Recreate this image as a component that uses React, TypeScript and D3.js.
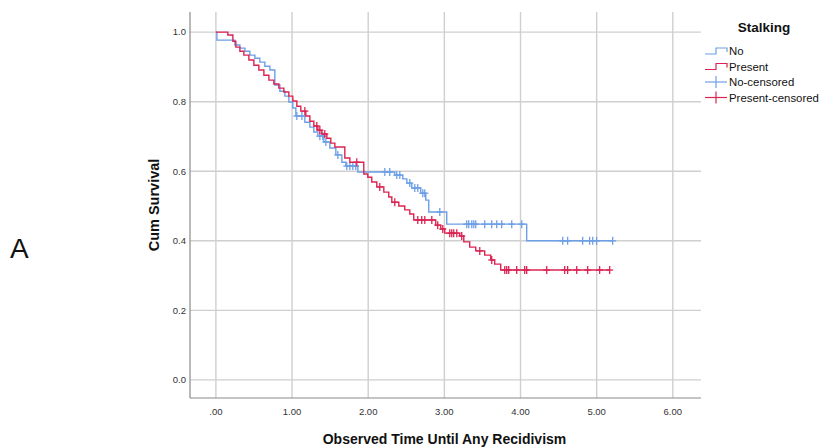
import React from "react";
import * as d3 from "d3";

// ---- Data ----
const xTicks = [0, 1, 2, 3, 4, 5, 6];
const xTickLabels = [".00", "1.00", "2.00", "3.00", "4.00", "5.00", "6.00"];
const yTicks = [0, 0.2, 0.4, 0.6, 0.8, 1.0];
const yTickLabels = ["0.0", "0.2", "0.4", "0.6", "0.8", "1.0"];

const groups = ["No", "Present"];
const legendLabels = ["No", "Present", "No-censored", "Present-censored"];

// "No" group: event times and survival after each event
const noTimes = [0.013, 0.249, 0.315, 0.381, 0.446, 0.512, 0.577, 0.643, 0.709, 0.774, 0.84, 0.906, 0.958, 1.01, 1.05, 1.168, 1.234, 1.286, 1.339, 1.417, 1.496, 1.575, 1.654, 1.706, 1.864, 2.349, 2.454, 2.507, 2.572, 2.69, 2.756, 2.795, 3.031, 4.081];
const noSurv = [0.977, 0.963, 0.954, 0.945, 0.934, 0.925, 0.914, 0.902, 0.891, 0.848, 0.83, 0.816, 0.799, 0.782, 0.759, 0.741, 0.727, 0.713, 0.701, 0.684, 0.667, 0.647, 0.626, 0.615, 0.598, 0.589, 0.578, 0.566, 0.552, 0.537, 0.517, 0.483, 0.448, 0.4];
const noCensored = [1.063, 1.129, 1.365, 1.404, 1.444, 1.601, 1.719, 1.759, 1.798, 1.837, 2.218, 2.283, 2.375, 2.415, 2.546, 2.612, 2.651, 2.717, 2.743, 2.94, 3.294, 3.32, 3.36, 3.386, 3.412, 3.53, 3.622, 3.688, 3.753, 3.885, 4.016, 4.554, 4.619, 4.816, 4.908, 4.948, 4.999, 5.21];

// "Present" group
const presentTimes = [0.157, 0.223, 0.262, 0.315, 0.367, 0.433, 0.499, 0.564, 0.63, 0.696, 0.761, 0.827, 0.892, 0.958, 1.01, 1.063, 1.115, 1.181, 1.234, 1.286, 1.339, 1.391, 1.457, 1.509, 1.562, 1.693, 1.759, 1.942, 1.995, 2.047, 2.113, 2.205, 2.27, 2.31, 2.402, 2.48, 2.546, 2.598, 2.887, 2.953, 3.005, 3.202, 3.255, 3.333, 3.412, 3.53, 3.609, 3.661, 3.74];
const presentSurv = [0.992, 0.974, 0.957, 0.945, 0.934, 0.92, 0.905, 0.891, 0.876, 0.862, 0.851, 0.839, 0.828, 0.816, 0.802, 0.787, 0.773, 0.759, 0.744, 0.73, 0.718, 0.707, 0.695, 0.681, 0.67, 0.638, 0.626, 0.592, 0.583, 0.569, 0.555, 0.54, 0.526, 0.511, 0.5, 0.489, 0.477, 0.46, 0.445, 0.434, 0.422, 0.414, 0.397, 0.382, 0.371, 0.359, 0.345, 0.333, 0.316];
const presentCensored = [1.168, 1.325, 1.365, 1.43, 1.85, 2.152, 2.349, 2.651, 2.703, 2.743, 2.835, 2.913, 2.979, 3.071, 3.097, 3.123, 3.163, 3.228, 3.465, 3.622, 3.793, 3.819, 3.845, 3.95, 4.055, 4.081, 4.344, 4.58, 4.619, 4.738, 4.882, 5.039, 5.171];

const colors = ["#6d9fe6", "#dc2352"];

const W = 824;
const H = 447;
const plot = { left: 190, right: 701, top: 12, bottom: 398 };

function survAt(times: number[], surv: number[], t: number) {
  let s = 1;
  for (let i = 0; i < times.length; i++) {
    if (times[i] <= t) s = surv[i];
  }
  return s;
}

export default function App() {
  const x = d3.scaleLinear().domain([-0.34, 6.37]).range([plot.left, plot.right]);
  const y = d3.scaleLinear().domain([-0.052, 1.058]).range([plot.bottom, plot.top]);
  const font = "'Liberation Sans', Arial, Helvetica, sans-serif";

  const series = [
    { times: noTimes, surv: noSurv, cens: noCensored },
    { times: presentTimes, surv: presentSurv, cens: presentCensored },
  ];

  const line = d3
    .line<[number, number]>()
    .x((d) => x(d[0]))
    .y((d) => y(d[1]))
    .curve(d3.curveStepAfter);

  const legendRows = [51, 66.5, 82, 97.5];

  return (
    <svg width={W} height={H} style={{ position: "absolute", left: 0, top: 0, background: "#fff" }}>
      <rect x={0} y={0} width={W} height={H} fill="#fff" />
      {/* grid */}
      {xTicks.map((t) => (
        <line key={"gx" + t} x1={x(t)} x2={x(t)} y1={plot.top} y2={plot.bottom} stroke="#cfcfcf" strokeWidth={1.4} />
      ))}
      {yTicks.map((t) => (
        <line key={"gy" + t} x1={plot.left} x2={plot.right} y1={y(t)} y2={y(t)} stroke="#cfcfcf" strokeWidth={1.4} />
      ))}
      {/* axes */}
      <line x1={plot.left} x2={plot.left} y1={plot.top} y2={plot.bottom} stroke="#8a8a8a" strokeWidth={1.2} />
      <line x1={plot.left} x2={plot.right} y1={plot.bottom} y2={plot.bottom} stroke="#8a8a8a" strokeWidth={1.2} />
      {/* tick labels */}
      {xTicks.map((t, i) => (
        <text key={"xl" + t} x={x(t)} y={415} fontSize={9.5} fontFamily={font} fill="#333" textAnchor="middle">
          {xTickLabels[i]}
        </text>
      ))}
      {yTicks.map((t, i) => (
        <text key={"yl" + t} x={186} y={y(t) + 3.3} fontSize={9.5} fontFamily={font} fill="#333" textAnchor="end">
          {yTickLabels[i]}
        </text>
      ))}
      {/* axis titles */}
      <text x={(plot.left + plot.right) / 2 - 1} y={444} fontSize={14} fontWeight="bold" fontFamily={font} fill="#111" textAnchor="middle">
        Observed Time Until Any Recidivism
      </text>
      <text
        transform={`translate(159,${(plot.top + plot.bottom) / 2}) rotate(-90)`}
        fontSize={14.5}
        fontWeight="bold"
        fontFamily={font}
        fill="#111"
        textAnchor="middle"
      >
        Cum Survival
      </text>
      <text x={10} y={258} fontSize={28} fontFamily={font} fill="#111">
        A
      </text>
      {/* curves */}
      {series.map((s, gi) => {
        const lastT = Math.max(s.times[s.times.length - 1], s.cens[s.cens.length - 1]);
        const pts: [number, number][] = [[0, 1]];
        s.times.forEach((t, i) => pts.push([t, s.surv[i]]));
        pts.push([lastT, s.surv[s.surv.length - 1]]);
        return (
          <g key={groups[gi]}>
            <path d={line(pts) || ""} fill="none" stroke={colors[gi]} strokeWidth={1.4} />
            {s.cens.map((c, ci) => {
              const cx = x(c);
              const cy = y(survAt(s.times, s.surv, c));
              return (
                <g key={ci} stroke={colors[gi]} strokeWidth={1.3}>
                  <line x1={cx} x2={cx} y1={cy - 4} y2={cy + 4} />
                  <line x1={cx - 3.5} x2={cx + 3.5} y1={cy} y2={cy} />
                </g>
              );
            })}
          </g>
        );
      })}
      {/* legend */}
      <text x={764} y={32} fontSize={13.5} fontWeight="bold" fontFamily={font} fill="#111" textAnchor="middle">
        Stalking
      </text>
      {legendLabels.map((lab, i) => {
        const ly = legendRows[i];
        const c = colors[i % 2];
        const censored = i >= 2;
        return (
          <g key={lab}>
            {censored ? (
              <g stroke={c} strokeWidth={1.2}>
                <line x1={705} x2={727} y1={ly} y2={ly} />
                <line x1={716} x2={716} y1={ly - 6} y2={ly + 6} />
              </g>
            ) : (
              <path d={`M705,${ly + 3}H716V${ly - 3}H727V${ly + 1}`} fill="none" stroke={c} strokeWidth={1.2} />
            )}
            <text x={729} y={ly + 4} fontSize={11.4} fontFamily={font} fill="#111">
              {lab}
            </text>
          </g>
        );
      })}
    </svg>
  );
}
